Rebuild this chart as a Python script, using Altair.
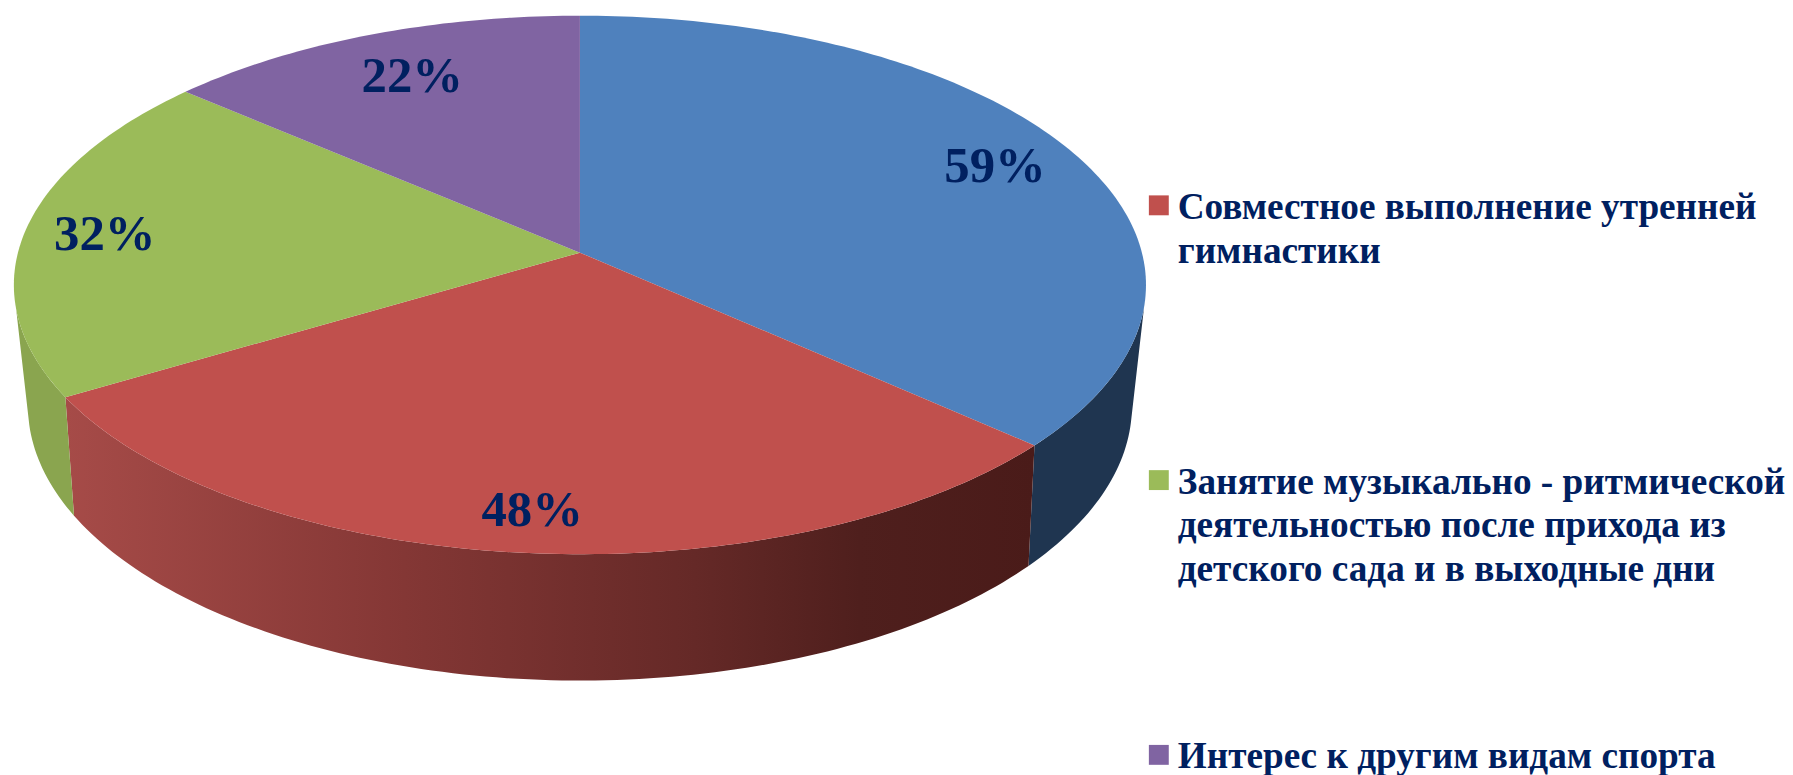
import math
import altair as alt
import pandas as pd

# ---- data
categories = [
    "Другое",
    "Совместное выполнение утренней|гимнастики",
    "Занятие музыкально - ритмической|деятельностью после прихода из|детского сада и в выходные дни",
    "Интерес к другим видам спорта",
]
values = [59, 48, 32, 22]
colors = ["#4F81BD", "#C0504D", "#9BBB59", "#8064A2"]

# ---- layout of the tilted disc (screen pixels)
CX = 582.5
TOP = dict(y0=252, a=266.6, b=564.5, k=0.12)
BOT = dict(y0=367.3, a=270.5, b=549, k=0.14)
LABEL_R = [0.84, 0.87, 0.86, 0.80]
LABEL_DX = [1, 5.5, 2, 4.5]
LABEL_DY = 2
LEG_SYMBOL_X, LEG_TEXT_X = 1164, 1183
LEG_SYMBOL_Y0, LEG_BASE_Y0, LEG_STEP = 204.5, 218, 276
W, H = 1785, 767


def project(theta_deg, r, d):
    t = math.radians(theta_deg)
    u, v = r * math.sin(t), r * math.cos(t)
    den = 1 + d["k"] * v
    return CX + d["b"] * u / den, d["y0"] - d["a"] * v / den


total = sum(values)
edges = [0]
for val in values:
    edges.append(edges[-1] + val / total * 360)


def arc(t0, t1, d):
    n = max(2, int(abs(t1 - t0)) + 2)
    return [project(t0 + (t1 - t0) * i / (n - 1), 1, d) for i in range(n)]


rows = []
for name, t0, t1 in zip(categories, edges[:-1], edges[1:]):
    pts = [project(0, 0, TOP)] + arc(t0, t1, TOP)
    rows += [dict(slice=name, i=i, x=p[0], y=p[1]) for i, p in enumerate(pts)]
top_df = pd.DataFrame(rows)


def wall(t0, t1):
    pts = arc(t0, t1, TOP) + arc(t1, t0, BOT)
    return pd.DataFrame([dict(i=i, x=p[0], y=p[1]) for i, p in enumerate(pts)])


x_enc = alt.X("x:Q", axis=None, scale=alt.Scale(domain=[8, 8 + W], nice=False, zero=False))
y_enc = alt.Y("y:Q", axis=None, scale=alt.Scale(domain=[8 + H, 8], nice=False, zero=False))
order = alt.Order("i:Q")
color_scale = alt.Scale(domain=categories, range=colors)


def wall_chart(df, fill):
    return alt.Chart(df).mark_line(filled=True, fill=fill, stroke=None, clip=False).encode(
        x=x_enc, y=y_enc, order=order
    )


red_grad = alt.Gradient(
    gradient="linear", x1=0, x2=1, y1=0, y2=0,
    stops=[
        alt.GradientStop(offset=0, color="#A64B48"),
        alt.GradientStop(offset=0.35, color="#843735"),
        alt.GradientStop(offset=0.65, color="#652927"),
        alt.GradientStop(offset=0.82, color="#4F1F1D"),
        alt.GradientStop(offset=1, color="#4A1B19"),
    ],
)

walls = [
    wall_chart(wall(101.5, edges[1]), "#1F3550"),
    wall_chart(wall(edges[1], edges[2]), red_grad),
    wall_chart(wall(edges[2], 258), "#8AA54F"),
]

tops = alt.Chart(top_df).mark_line(filled=True, clip=False).encode(
    x=x_enc, y=y_enc, order=order,
    color=alt.Color("slice:N", scale=color_scale, legend=None),
)

labels_df = pd.DataFrame(
    [
        dict(
            x=project((t0 + t1) / 2, r, TOP)[0] + dx,
            y=project((t0 + t1) / 2, r, TOP)[1] + LABEL_DY,
            t=f"{val}%",
        )
        for val, t0, t1, r, dx in zip(values, edges[:-1], edges[1:], LABEL_R, LABEL_DX)
    ]
)
labels = alt.Chart(labels_df).mark_text(
    font="Liberation Serif", fontWeight="bold", fontSize=51, color="#002060",
    align="center", baseline="middle",
).encode(x=x_enc, y=y_enc, text="t:N")

# legend: the first series has no entry in the reference
legend_df = pd.DataFrame(
    [
        dict(
            slice=name,
            sx=LEG_SYMBOL_X,
            sy=LEG_SYMBOL_Y0 + i * LEG_STEP,
            x=LEG_TEXT_X,
            y=LEG_BASE_Y0 + i * LEG_STEP,
        )
        for i, name in enumerate(categories[1:])
    ]
)
legend_marks = alt.Chart(legend_df).mark_square(size=400, opacity=1, filled=True, clip=False).encode(
    x=alt.X("sx:Q", axis=None, scale=alt.Scale(domain=[8, 8 + W], nice=False, zero=False)),
    y=alt.Y("sy:Q", axis=None, scale=alt.Scale(domain=[8 + H, 8], nice=False, zero=False)),
    color=alt.Color("slice:N", scale=color_scale, legend=None),
)
legend_text = alt.Chart(legend_df).mark_text(
    font="Liberation Serif", fontWeight="bold", fontSize=37.4, color="#002060",
    align="left", baseline="alphabetic", lineBreak="|", lineHeight=44, clip=False,
).encode(x=x_enc, y=y_enc, text="slice:N")

chart = (
    alt.layer(*walls, tops, labels, legend_marks, legend_text)
    .properties(width=W, height=H, padding=0, autosize=alt.AutoSizeParams(type="none"), background="white")
    .configure_view(stroke=None)
)
chart.save("out.html", embed_options={"renderer": "svg", "actions": False})
